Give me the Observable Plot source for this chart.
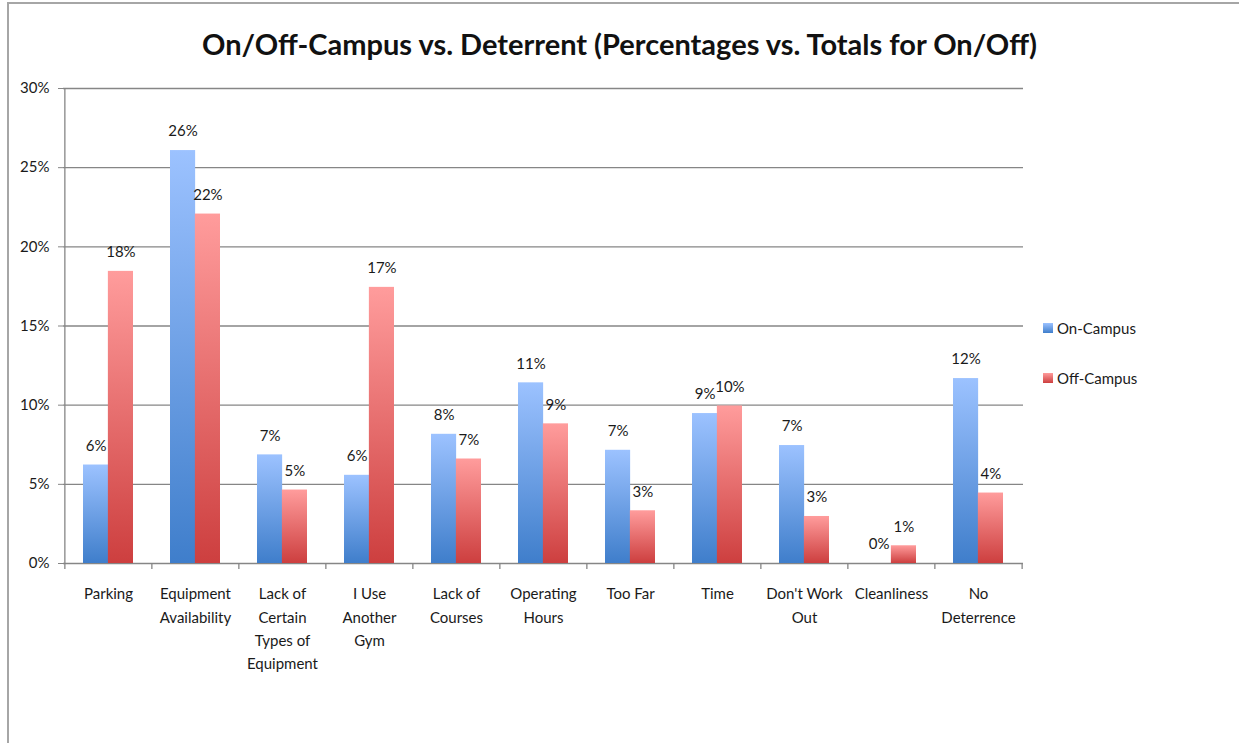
<!DOCTYPE html>
<html>
<head>
<meta charset="utf-8">
<script src="https://cdn.jsdelivr.net/npm/d3@7"></script>
<script src="https://cdn.jsdelivr.net/npm/@observablehq/plot@0.6"></script>
<style>
  body { margin: 0; background: #fff; font-family: Lato, "Open Sans", sans-serif; color: #1a1a1a; }
  #wrap { position: relative; width: 1239px; height: 743px; overflow: hidden; background: #fff; }
  #border { position: absolute; left: 7px; top: 2px; right: -10px; bottom: -10px; border-left: 2px solid #a6a6a6; border-top: 2px solid #a6a6a6; pointer-events: none; }
  #title { position: absolute; left: 0; top: 25px; width: 1239px; text-align: center; font-weight: 700; font-size: 29px; line-height: 38px; color: #111; }
  #legend { position: absolute; left: 1043px; top: 318px; font-size: 15px; color: #1a1a1a; }
  .item { position: relative; height: 20px; line-height: 20px; padding-left: 14px; margin-bottom: 30px; }
  .sw { position: absolute; left: 0; top: 5px; width: 10px; height: 10px; }
  #chart { position: absolute; left: 0; top: 0; }
</style>
</head>
<body>
<div id="wrap">
  <div id="chart"></div>
  <div id="title">On/Off-Campus vs. Deterrent (Percentages vs. Totals for On/Off)</div>
  <div id="legend"></div>
  <div id="border"></div>
</div>
<script>
// ---- data ----
const categories = ["Parking", "Equipment Availability", "Lack of Certain Types of Equipment", "I Use Another Gym", "Lack of Courses", "Operating Hours", "Too Far", "Time", "Don't Work Out", "Cleanliness", "No Deterrence"];
const categoryLabels = ["Parking", "Equipment\nAvailability", "Lack of\nCertain\nTypes of\nEquipment", "I Use\nAnother\nGym", "Lack of\nCourses", "Operating\nHours", "Too Far", "Time", "Don't Work\nOut", "Cleanliness", "No\nDeterrence"];
const onCampus = [6.22, 26.08, 6.86, 5.57, 8.16, 11.41, 7.15, 9.47, 7.45, 0, 11.68];
const offCampus = [18.45, 22.07, 4.64, 17.44, 6.6, 8.82, 3.33, 9.95, 2.97, 1.12, 4.45];
const yTicks = [0, 5, 10, 15, 20, 25, 30];
const seriesNames = ["On-Campus", "Off-Campus"];

const rows = categories.map((c, i) => ({cat: c, label: categoryLabels[i], on: onCampus[i], off: offCampus[i]}));
const labelOf = new Map(categories.map((c, i) => [c, categoryLabels[i]]));

const W = 1239, H = 743;
const mL = 63, mR = 216, mT = 88, mB = 180;
const step = (W - mL - mR) / categories.length;
const padInner = 0.43;
const bw = step * (1 - padInner);
const grid = "#868686";

const chart = Plot.plot({
  width: W,
  height: H,
  marginLeft: mL,
  marginRight: mR,
  marginTop: mT,
  marginBottom: mB,
  style: {background: "#fff", fontFamily: "Lato, 'Open Sans', sans-serif", fontSize: "15px", color: "#1a1a1a"},
  x: {domain: categories, paddingInner: padInner, paddingOuter: padInner / 2, axis: null},
  y: {domain: [0, 30], axis: null},
  marks: [
    Plot.ruleY(yTicks, {y: d => d, stroke: grid, strokeWidth: 1.3}),
    Plot.ruleX([categories[0]], {x: d => d, y1: 0, y2: 30, dx: -step / 2, stroke: grid, strokeWidth: 1.3}),
    Plot.ruleX(categories, {x: d => d, y1: 0, y2: 0, dx: -step / 2, insetTop: 0, insetBottom: -6, stroke: grid, strokeWidth: 1.3}),
    Plot.ruleX([categories[categories.length - 1]], {x: d => d, y1: 0, y2: 0, dx: step / 2, insetTop: 0, insetBottom: -6, stroke: grid, strokeWidth: 1.3}),
    Plot.axisY({ticks: yTicks, tickFormat: d => d + "%", tickSize: 5, tickPadding: 9, stroke: grid, label: null, fontSize: 15}),
    Plot.barY(rows, {x: "cat", y: "on", fill: "url(#gradOn)", insetRight: bw / 2}),
    Plot.barY(rows, {x: "cat", y: "off", fill: "url(#gradOff)", insetLeft: bw / 2}),
    Plot.text(rows, {x: "cat", y: "on", text: d => Math.round(d.on) + "%", dx: -bw / 4, dy: -19, fill: "#1a1a1a"}),
    Plot.text(rows, {x: "cat", y: "off", text: d => Math.round(d.off) + "%", dx: bw / 4, dy: -19, fill: "#1a1a1a"}),
    Plot.text(categories, {x: d => d, frameAnchor: "bottom", text: d => labelOf.get(d), lineAnchor: "top", dy: 19, lineHeight: 1.56, fill: "#1a1a1a"})
  ]
});

// gradients
const ns = "http://www.w3.org/2000/svg";
const defs = document.createElementNS(ns, "defs");
function grad(id, top, bottom) {
  const g = document.createElementNS(ns, "linearGradient");
  g.setAttribute("id", id);
  g.setAttribute("x1", "0"); g.setAttribute("y1", "0");
  g.setAttribute("x2", "0"); g.setAttribute("y2", "1");
  [[0, top], [1, bottom]].forEach(([o, c]) => {
    const s = document.createElementNS(ns, "stop");
    s.setAttribute("offset", o);
    s.setAttribute("stop-color", c);
    g.appendChild(s);
  });
  defs.appendChild(g);
}
grad("gradOn", "#9cc2ff", "#3f7ecb");
grad("gradOff", "#ff9c9c", "#cd3f3f");
chart.insertBefore(defs, chart.firstChild);
document.getElementById("chart").appendChild(chart);

// legend
const legend = document.getElementById("legend");
const swatchBg = ["linear-gradient(#9cc2ff, #3f7ecb)", "linear-gradient(#ff9c9c, #cd3f3f)"];
seriesNames.forEach((name, i) => {
  const it = document.createElement("div");
  it.className = "item";
  const sw = document.createElement("span");
  sw.className = "sw";
  sw.style.background = swatchBg[i];
  it.appendChild(sw);
  it.appendChild(document.createTextNode(name));
  legend.appendChild(it);
});
</script>
</body>
</html>
